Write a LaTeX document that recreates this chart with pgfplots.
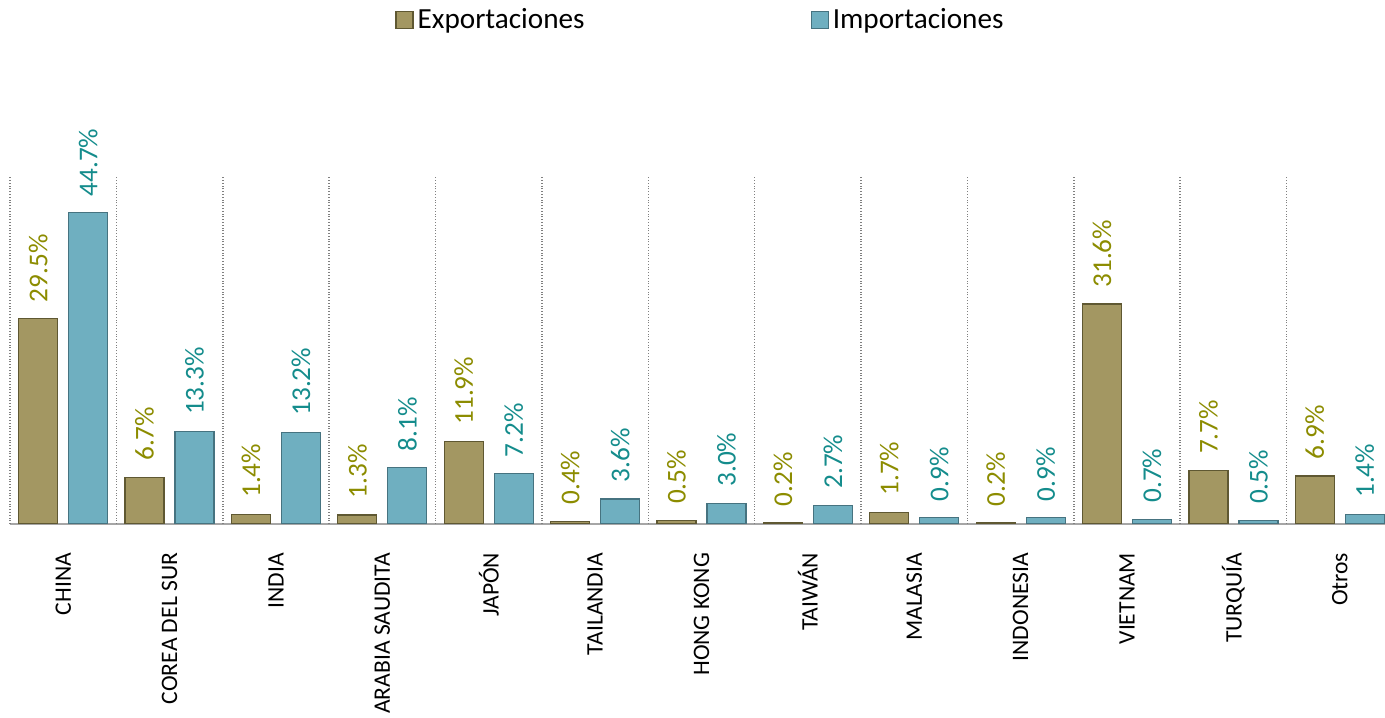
\documentclass[border=0pt]{standalone}
\usepackage{pgfplots}
\pgfplotsset{compat=1.18}
\usepackage{fontspec}
\setmainfont{Carlito}
\definecolor{expfill}{RGB}{163,151,98}
\definecolor{expdraw}{RGB}{95,88,50}
\definecolor{impfill}{RGB}{111,175,192}
\definecolor{impdraw}{RGB}{70,115,128}
\definecolor{explab}{RGB}{140,140,0}
\definecolor{implab}{RGB}{20,140,140}
\begin{document}
\begin{tikzpicture}
\useasboundingbox (0,0) rectangle (692.5bp,359bp);
\begin{axis}[
  at={(5bp,97bp)}, anchor=south west,
  scale only axis, width=691.5bp, height=174bp,
  ybar=5.5bp, bar width=19.5bp,
  xmin=-0.5, xmax=12.5, ymin=0, ymax=50,
  axis x line*=bottom, axis y line=none,
  x axis line style={-, gray!70, line width=0.8pt},
  xtick={0,...,12},
  xticklabels={CHINA,COREA DEL SUR,INDIA,ARABIA SAUDITA,JAPÓN,TAILANDIA,HONG KONG,TAIWÁN,MALASIA,INDONESIA,VIETNAM,TURQUÍA,Otros},
  xtick style={draw=none},
  xticklabel style={rotate=90, anchor=east, inner sep=0pt, font=\fontsize{11.8bp}{14bp}\selectfont},
  xticklabel shift=10bp,
  extra x ticks={-0.5,0.5,...,11.5},
  extra x tick labels={},
  extra x tick style={grid=major, major grid style={densely dotted, gray, line width=0.8pt},
     tick align=outside, major tick length=4bp, tick style={gray!70, line width=0.8pt}},
  nodes near coords={\pgfmathprintnumber[fixed,fixed zerofill,precision=1,assume math mode=true]{\pgfplotspointmeta}\%},
  nodes near coords style={rotate=90, anchor=west, inner xsep=8bp, inner ysep=0pt, font=\fontsize{13.6bp}{16bp}\selectfont},
  legend style={at={(0.5,1.448)}, anchor=center, draw=none, fill=none, legend columns=2,
     font=\fontsize{14.6bp}{17bp}\selectfont,
     /tikz/every even column/.append style={column sep=111bp}},
]
\addplot[fill=expfill, draw=expdraw, line width=0.6pt,
  every node near coord/.append style={text=explab},
  legend image code/.code={\draw[fill=expfill, draw=expdraw] (0bp,-4.25bp) rectangle (8.5bp,4.25bp);}]
  coordinates {(0,29.5) (1,6.7) (2,1.4) (3,1.3) (4,11.9) (5,0.4) (6,0.5) (7,0.2) (8,1.7) (9,0.2) (10,31.6) (11,7.7) (12,6.9)};
\addlegendentry{Exportaciones}
\addplot[fill=impfill, draw=impdraw, line width=0.6pt,
  every node near coord/.append style={text=implab},
  legend image code/.code={\draw[fill=impfill, draw=impdraw] (0bp,-4.25bp) rectangle (8.5bp,4.25bp);}]
  coordinates {(0,44.7) (1,13.3) (2,13.2) (3,8.1) (4,7.2) (5,3.6) (6,3.0) (7,2.7) (8,0.9) (9,0.9) (10,0.7) (11,0.5) (12,1.4)};
\addlegendentry{Importaciones}
\end{axis}
\end{tikzpicture}
\end{document}
